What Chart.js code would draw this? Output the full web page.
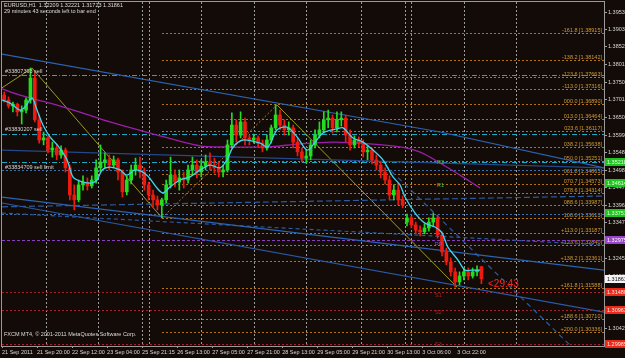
<!DOCTYPE html>
<html><head><meta charset="utf-8">
<script src="https://cdn.jsdelivr.net/npm/chart.js@4.4.0/dist/chart.umd.min.js"></script>
<style>html,body{margin:0;padding:0;background:#130b07;overflow:hidden}</style>
</head><body>
<canvas id="c" width="625" height="358"></canvas>
<script>
// ---------- DATA ----------
const xTickBars = [0,16,32,48,64,80,96,112,128,144,160,176,192,208];
const xTickLabels = ['21 Sep 2011','21 Sep 20:00','22 Sep 12:00','23 Sep 04:00','25 Sep 21:15','26 Sep 13:00','27 Sep 05:00','27 Sep 21:00','28 Sep 13:00','29 Sep 05:00','29 Sep 21:00','30 Sep 13:00','3 Oct 06:00','3 Oct 22:00'];
const yTickValues = [1.39530,1.39030,1.38525,1.38015,1.37500,1.37010,1.36500,1.35990,1.35480,1.34980,1.34475,1.33960,1.33470,1.32955,1.32450,1.31935,1.31425,1.30915,1.30425];
const separatorBars = [20,44,64,67,91,115,139,164,184,187,211,235];

const candleOpen = [1.3714,1.3700,1.3683,1.3688,1.3666,1.3671,1.3700,1.3763,1.3643,1.3585,
1.3591,1.3556,1.3562,1.3542,1.3556,1.3505,1.3427,1.3413,1.3456,1.3464,
1.3453,1.3470,1.3505,1.3522,1.3528,1.3513,1.3528,1.3493,1.3436,1.3470,
1.3499,1.3513,1.3493,1.3456,1.3427,1.3413,1.3398,1.3413,1.3456,1.3484,
1.3464,1.3476,1.3470,1.3499,1.3513,1.3493,1.3510,1.3522,1.3513,1.3505,
1.3493,1.3499,1.3571,1.3628,1.3599,1.3637,1.3591,1.3585,1.3591,1.3576,
1.3562,1.3585,1.3620,1.3657,1.3628,1.3614,1.3620,1.3579,1.3551,1.3533,
1.3539,1.3571,1.3599,1.3614,1.3643,1.3648,1.3620,1.3643,1.3648,1.3599,
1.3571,1.3585,1.3576,1.3551,1.3556,1.3528,1.3513,1.3493,1.3470,1.3427,
1.3441,1.3413,1.3349,1.3361,1.3341,1.3326,1.3321,1.3332,1.3349,1.3361,
1.3312,1.3263,1.3234,1.3206,1.3177,1.3194,1.3206,1.3194,1.3206,1.3221];
const candleHigh = [1.3723,1.3709,1.3694,1.3691,1.3683,1.3706,1.3792,1.3778,1.3657,1.3608,
1.3597,1.3579,1.3573,1.3568,1.3562,1.3513,1.3456,1.3470,1.3482,1.3476,
1.3482,1.3528,1.3571,1.3548,1.3542,1.3539,1.3533,1.3499,1.3482,1.3513,
1.3533,1.3536,1.3505,1.3464,1.3441,1.3424,1.3418,1.3470,1.3536,1.3499,
1.3499,1.3493,1.3513,1.3536,1.3528,1.3528,1.3542,1.3548,1.3533,1.3522,
1.3513,1.3585,1.3663,1.3643,1.3666,1.3648,1.3599,1.3602,1.3597,1.3585,
1.3599,1.3628,1.3686,1.3671,1.3643,1.3637,1.3628,1.3591,1.3562,1.3556,
1.3585,1.3614,1.3637,1.3666,1.3671,1.3657,1.3666,1.3666,1.3657,1.3614,
1.3597,1.3594,1.3585,1.3568,1.3562,1.3542,1.3522,1.3505,1.3482,1.3456,
1.3461,1.3424,1.3372,1.3366,1.3349,1.3338,1.3344,1.3361,1.3375,1.3369,
1.3321,1.3274,1.3246,1.3217,1.3206,1.3217,1.3217,1.3217,1.3223,1.3222];
const candleLow = [1.3694,1.3677,1.3666,1.3654,1.3631,1.3663,1.3691,1.3637,1.3576,1.3571,
1.3548,1.3536,1.3528,1.3533,1.3493,1.3413,1.3384,1.3407,1.3441,1.3441,
1.3447,1.3461,1.3493,1.3505,1.3499,1.3505,1.3470,1.3421,1.3427,1.3459,
1.3484,1.3476,1.3441,1.3413,1.3392,1.3384,1.3361,1.3404,1.3447,1.3450,
1.3441,1.3447,1.3461,1.3484,1.3476,1.3479,1.3499,1.3499,1.3490,1.3479,
1.3479,1.3493,1.3562,1.3579,1.3591,1.3571,1.3571,1.3576,1.3565,1.3551,
1.3556,1.3576,1.3614,1.3614,1.3599,1.3599,1.3562,1.3539,1.3522,1.3519,
1.3528,1.3562,1.3591,1.3605,1.3620,1.3605,1.3608,1.3625,1.3579,1.3556,
1.3562,1.3565,1.3536,1.3528,1.3516,1.3499,1.3476,1.3459,1.3413,1.3413,
1.3398,1.3390,1.3338,1.3332,1.3315,1.3309,1.3315,1.3323,1.3338,1.3303,
1.3252,1.3226,1.3194,1.3162,1.3168,1.3183,1.3183,1.3188,1.3194,1.3172];
const candleClose = [1.3700,1.3683,1.3688,1.3666,1.3671,1.3700,1.3763,1.3643,1.3585,1.3591,
1.3556,1.3562,1.3542,1.3556,1.3505,1.3427,1.3413,1.3456,1.3464,1.3453,
1.3470,1.3505,1.3522,1.3528,1.3513,1.3528,1.3493,1.3436,1.3470,1.3499,
1.3513,1.3493,1.3456,1.3427,1.3413,1.3398,1.3413,1.3456,1.3484,1.3464,
1.3476,1.3470,1.3499,1.3513,1.3493,1.3510,1.3522,1.3513,1.3505,1.3493,
1.3499,1.3571,1.3628,1.3599,1.3637,1.3591,1.3585,1.3591,1.3576,1.3562,
1.3585,1.3620,1.3657,1.3628,1.3614,1.3620,1.3579,1.3551,1.3533,1.3539,
1.3571,1.3599,1.3614,1.3643,1.3648,1.3620,1.3643,1.3648,1.3599,1.3571,
1.3585,1.3576,1.3551,1.3556,1.3528,1.3513,1.3493,1.3470,1.3427,1.3441,
1.3413,1.3398,1.3361,1.3341,1.3326,1.3321,1.3332,1.3349,1.3361,1.3312,
1.3263,1.3234,1.3206,1.3177,1.3194,1.3206,1.3194,1.3206,1.3211,1.3186];

const maBars = [0,3.7,8.2,10.5,13.7,16,18.7,21.9,25.6,29.7,32.4,35.6,40.2,43.4,45.7,49.3,53.9,57.1,60.8,66.2,70.8,73.5,76.7,81.3,85.9,90.5,95,99.6,102.8,105.6,110.1,117.9,121.5,125.6,130.2,134.8,139.3,142.1,146.6,153,155.8,160.3,164.9,169.5,174,178.6,181.8,184.1,188.7,193.2,197.8,201,203.7,208.3,211.5,214.7,218.4];
const maValues = [1.3700,1.3691,1.3671,1.3680,1.3706,1.3671,1.3628,1.3594,1.3568,1.3528,1.3479,1.3467,1.3461,1.3470,1.3499,1.3507,1.3499,1.3484,1.3499,1.3484,1.3447,1.3433,1.3450,1.3470,1.3479,1.3499,1.3513,1.3505,1.3528,1.3565,1.3585,1.3576,1.3565,1.3614,1.3622,1.3594,1.3556,1.3571,1.3605,1.3617,1.3620,1.3591,1.3579,1.3556,1.3528,1.3479,1.3456,1.3421,1.3375,1.3346,1.3335,1.3318,1.3277,1.3240,1.3211,1.3211,1.3211];

const slowBars = [0,8.2,21.9,35.6,49.3,67.6,90.5,104.2,121.1,136.1,151.2,168.1,181.8,191,200.1,209.2,218.4];
const slowValues = [1.3732,1.3714,1.3691,1.3665,1.3637,1.3605,1.3568,1.3565,1.3565,1.3574,1.3579,1.3574,1.3565,1.3550,1.3519,1.3484,1.3447];

const trendTop = [[0,1.3832],[200.1,1.3608],[275,1.3505]];
const trendFlat = [[0,1.3556],[275,1.3505]];
const trendLowA = [[0,1.3421],[275,1.3211]];
const trendLowB = [[0,1.3404],[275,1.3090]];
const trendDashA = [[0,1.3393],[275,1.3424]];
const trendDashB = [[0,1.3375],[275,1.3283]];
const trendSteep = [[175,1.3513],[261.8,1.2981]];
const zigzagA = [[0,1.3735],[13.7,1.3792],[73.1,1.3361]];
const zigzagB = [[125.6,1.3686],[207.9,1.3162]];
const fibBase = [[73.1,1.3361],[125.6,1.3686]];

const fibStartBar = 73.1;
const fibLevels = ['-161.8','-138.2','-123.6','-113.0','000.0','013.0','023.6','038.2','050.0','061.8','070.7','078.6','088.6','100.0','+113.0','+123.6','+138.2','+161.8','+188.6','+200.0'];
const fibPrices = [1.38915,1.38142,1.37663,1.37316,1.36890,1.36464,1.36117,1.35638,1.35251,1.34865,1.34573,1.34314,1.33987,1.33613,1.33187,1.32840,1.32361,1.31588,1.30710,1.30336];

const orderLevels = [1.3772,1.3602,1.3522];
const blueDottedLevels = [1.3499,1.3372];
const pivotLevel = [1.3298];
const supportLevels = [1.3148,1.3096,1.2999];

const axisMarkPrices = [1.35218,1.34614,1.33751,1.32975,1.31861,1.31480,1.30963,1.29985];

const annotTexts = ['#33807393 sell','#33830207 sell','#33834709 sell limit','R2','R1','PP','S1','S2','S3','<29:43'];
const annotBars = [1.4,1.4,1.4,198.7,198.7,197.8,197.8,197.8,197.8,222];
const annotPrices = [1.3781,1.3614,1.3507,1.3519,1.3453,1.3286,1.3137,1.3088,1.2996,1.3171];

const titleLine1 = 'EURUSD,H1  1.32209 1.32221 1.31723 1.31861';
const titleLine2 = '29 minutes 43 seconds left to bar end';
const copyright = 'FXCM MT4, \u00a9 2001-2011 MetaQuotes Software Corp.';

// ---------- STYLE ----------
const BG = '#130b07';
const FONT = '"Liberation Sans", Arial, sans-serif';
const UP = '#22dd22', DOWN = '#ee1a10';
const annotColors = ['#d8d8d8','#d8d8d8','#d8d8d8','#3fbf3f','#3fbf3f','#9050c0','#b02020','#b02020','#b02020','#ff2424'];
const annotSizes = [5.5,5.5,5.5,5.5,5.5,5.5,5.5,5.5,5.5,10];
const axisMarkColors = ['#1fc41f','#1fc41f','#1fc41f','#9a44c8','#f4f4f4','#e82a18','#e82a18','#e82a18'];
const axisMarkText = ['#e8ffe8','#e8ffe8','#e8ffe8','#ffffff','#101010','#ffe8e8','#ffe8e8','#ffe8e8'];

const candleBarsIdx = candleOpen.map((_, i) => i * 2 + 1);
const isUp = candleOpen.map((o, i) => candleClose[i] >= o);
const candleColors = isUp.map(u => u ? UP : DOWN);

function lineDs(points, color, dash, width, order) {
  return { type: 'line', data: points.map(p => ({x: p[0], y: p[1]})), borderColor: color,
    borderWidth: width || 1, borderDash: dash || [], pointRadius: 0, tension: 0, order: order == null ? 5 : order, fill: false };
}

const decor = {
  id: 'decor',
  beforeDraw(chart) {
    const c = chart.ctx; c.save(); c.fillStyle = BG; c.fillRect(0, 0, chart.width, chart.height); c.restore();
  },
  beforeDatasetsDraw(chart) {
    const {ctx, chartArea: a, scales: {x, y}} = chart;
    ctx.save();
    ctx.beginPath(); ctx.rect(a.left, a.top, a.right - a.left, a.bottom - a.top); ctx.clip();
    ctx.lineWidth = 1;
    // period separators
    ctx.strokeStyle = '#9a9a9a'; ctx.setLineDash([2, 2]);
    separatorBars.forEach(b => { const px = Math.round(x.getPixelForValue(b)) + 0.5; ctx.beginPath(); ctx.moveTo(px, a.top); ctx.lineTo(px, a.bottom); ctx.stroke(); });
    const hline = (price, color, dash, x0) => {
      const py = Math.round(y.getPixelForValue(price)) + 0.5;
      ctx.strokeStyle = color; ctx.setLineDash(dash);
      ctx.beginPath(); ctx.moveTo(x0 == null ? a.left : x0, py); ctx.lineTo(a.right, py); ctx.stroke();
      return py;
    };
    // fibonacci levels
    const fx = x.getPixelForValue(fibStartBar);
    ctx.font = '5.5px ' + FONT; ctx.textAlign = 'right'; ctx.textBaseline = 'bottom';
    fibPrices.forEach((p, i) => {
      const py = hline(p, '#b47418', [2, 2], fx);
      ctx.fillStyle = '#cf9a34';
      ctx.fillText(fibLevels[i] + ' [' + p.toFixed(5) + ']', a.right - 2, py - 0.5);
    });
    orderLevels.forEach(p => hline(p, '#1fa6c4', [5, 2, 1, 2]));
    blueDottedLevels.forEach(p => hline(p, '#3f6ea8', [2, 2]));
    pivotLevel.forEach(p => hline(p, '#8a3cc0', [3, 2]));
    supportLevels.forEach(p => hline(p, '#a8202c', [2, 2]));
    ctx.restore();
  },
  afterDatasetsDraw(chart) {
    const {ctx, chartArea: a, scales: {x, y}} = chart;
    ctx.save();
    ctx.beginPath(); ctx.rect(a.left, a.top, a.right - a.left, a.bottom - a.top); ctx.clip();
    ctx.textAlign = 'left'; ctx.textBaseline = 'middle';
    annotTexts.forEach((t, i) => {
      ctx.font = (i === annotTexts.length - 1 ? '' : '') + annotSizes[i] + 'px ' + FONT;
      ctx.fillStyle = annotColors[i];
      ctx.fillText(t, x.getPixelForValue(annotBars[i]), y.getPixelForValue(annotPrices[i]));
    });
    ctx.restore();
  },
  afterDraw(chart) {
    const {ctx, chartArea: a, scales: {y}} = chart;
    ctx.save();
    // border
    ctx.strokeStyle = '#9a9a9a'; ctx.lineWidth = 1; ctx.setLineDash([]);
    ctx.strokeRect(a.left - 0.5, a.top - 0.5, a.right - a.left + 1, a.bottom - a.top + 1);
    // axis price marks
    ctx.font = '5.5px ' + FONT; ctx.textAlign = 'left'; ctx.textBaseline = 'middle';
    axisMarkPrices.forEach((p, i) => {
      const py = Math.round(y.getPixelForValue(p));
      ctx.fillStyle = axisMarkColors[i]; ctx.fillRect(a.right + 1, py - 4, 24, 8);
      ctx.fillStyle = axisMarkText[i]; ctx.fillText(p.toFixed(5), a.right + 3, py + 0.5);
    });
    // titles
    ctx.fillStyle = '#dcdcdc'; ctx.font = '5.5px ' + FONT;
    ctx.fillText(titleLine1, a.left + 2, a.top + 3.5);
    ctx.fillText(titleLine2, a.left + 2, a.top + 9.5);
    ctx.fillText(copyright, a.left + 2, a.bottom - 12);
    ctx.restore();
  }
};

new Chart(document.getElementById('c'), {
  type: 'bar',
  data: {
    datasets: [
      { type: 'line', label: 'ma', data: maBars.map((b, i) => ({x: b, y: maValues[i]})), borderColor: '#3fd6f2', borderWidth: 1.3, pointRadius: 0, tension: 0.3, order: 0 },
      { type: 'bar', label: 'body', data: candleBarsIdx.map((b, i) => ({x: b, y: [candleOpen[i], candleClose[i]]})), backgroundColor: candleColors, barThickness: 3, grouped: false, order: 1, borderWidth: 0, minBarLength: 1 },
      { type: 'bar', label: 'wick', data: candleBarsIdx.map((b, i) => ({x: b, y: [candleLow[i], candleHigh[i]]})), backgroundColor: candleColors, barThickness: 1, grouped: false, order: 2, borderWidth: 0 },
      { type: 'line', label: 'slow', data: slowBars.map((b, i) => ({x: b, y: slowValues[i]})), borderColor: '#9a1fa8', borderWidth: 1.3, pointRadius: 0, tension: 0.3, order: 3 },
      lineDs(trendTop, '#2a64b4', [], 1.2),
      lineDs(trendFlat, '#24488a', [], 1.2),
      lineDs(trendLowA, '#2a64b4', [], 1.2),
      lineDs(trendLowB, '#2a5aa8', [], 1.2),
      lineDs(trendDashA, '#2a5aa0', [6, 3], 1.2),
      lineDs(trendDashB, '#2a5aa0', [4, 3], 1.2),
      lineDs(trendSteep, '#2a5aa0', [5, 4], 1.2),
      lineDs(zigzagA, '#9a9a22', [], 1),
      lineDs(zigzagB, '#9a9a22', [], 1),
      lineDs(fibBase, '#b47418', [2, 2], 1)
    ]
  },
  options: {
    responsive: false, animation: false, devicePixelRatio: 1,
    layout: { padding: { left: 2, top: 2, right: 0, bottom: 0 } },
    plugins: { legend: { display: false }, tooltip: { enabled: false } },
    scales: {
      x: {
        type: 'linear', min: 0, max: 275, offset: false,
        afterBuildTicks: s => { s.ticks = xTickBars.map(v => ({value: v})); },
        afterFit: s => { s.height = 12; s.paddingLeft = 0; s.paddingRight = 0; },
        grid: { drawOnChartArea: false, tickLength: 2, color: '#a0a0a0', offset: false },
        border: { display: false },
        ticks: { autoSkip: false, maxRotation: 0, minRotation: 0, align: 'start', padding: 1, color: '#d8d8d8',
          font: { family: FONT, size: 5.5 }, callback: (v, i) => xTickLabels[i] }
      },
      y: {
        type: 'linear', position: 'right', min: 1.29928, max: 1.39818,
        afterBuildTicks: s => { s.ticks = yTickValues.map(v => ({value: v})); },
        afterFit: s => { s.width = 21; s.paddingTop = 0; s.paddingBottom = 0; },
        grid: { drawOnChartArea: false, tickLength: 3, color: '#a0a0a0' },
        border: { display: false },
        ticks: { padding: 1, color: '#d8d8d8', font: { family: FONT, size: 5.5 }, callback: v => Number(v).toFixed(5) }
      }
    }
  },
  plugins: [decor]
});
</script>
</body></html>
